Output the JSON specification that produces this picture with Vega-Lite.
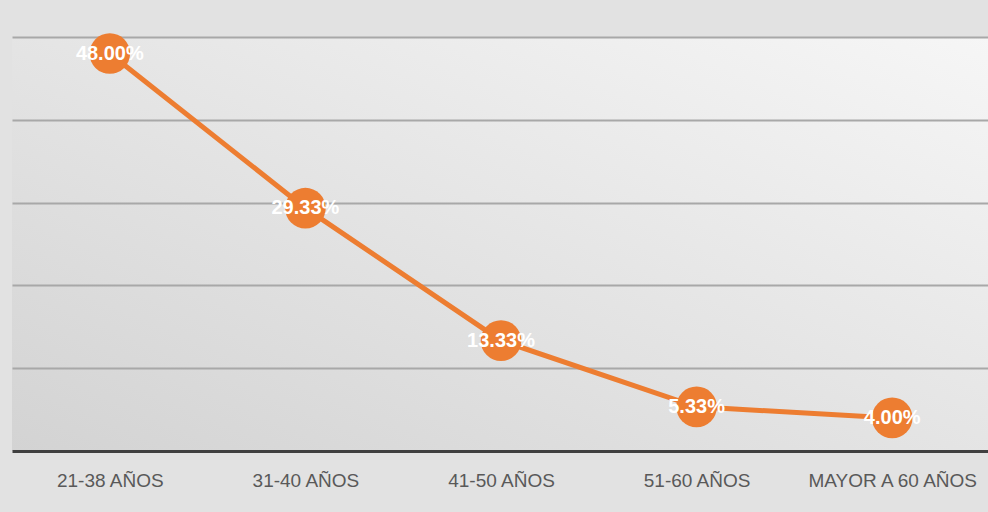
{
  "$schema": "https://vega.github.io/schema/vega-lite/v6.json",
  "width": 978,
  "height": 414,
  "autosize": {"type": "none"},
  "padding": {"left": 12, "top": 37, "right": 0, "bottom": 61},
  "background": "#e2e2e2",
  "config": {
    "view": {
      "stroke": null,
      "fill": {"gradient": "linear", "x1": 1, "y1": 0, "x2": 0, "y2": 1, "stops": [{"offset": 0, "color": "#f6f6f6"}, {"offset": 1, "color": "#d3d3d3"}]}
    },
    "font": "Open Sans"
  },
  "data": {
    "values": [
      {"grupo": "21-38 AÑOS", "pct": 0.48},
      {"grupo": "31-40 AÑOS", "pct": 0.2933},
      {"grupo": "41-50 AÑOS", "pct": 0.1333},
      {"grupo": "51-60 AÑOS", "pct": 0.0533},
      {"grupo": "MAYOR A 60 AÑOS", "pct": 0.04}
    ]
  },
  "encoding": {
    "x": {
      "field": "grupo", "type": "ordinal", "sort": null,
      "scale": {"paddingInner": 0, "paddingOuter": 0},
      "axis": {"title": null, "labelAngle": 0, "labelFontSize": 19, "labelFont": "Liberation Sans", "labelColor": "#595959", "labelPadding": 20, "ticks": false, "domainColor": "#404040", "domainWidth": 3, "grid": false}
    },
    "y": {
      "field": "pct", "type": "quantitative",
      "scale": {"domain": [0, 0.5], "nice": false},
      "axis": {"title": null, "labels": false, "ticks": false, "domain": false, "values": [0.1, 0.2, 0.3, 0.4, 0.5], "gridColor": "#a8a8a8", "gridWidth": 2}
    }
  },
  "layer": [
    {"mark": {"type": "line", "color": "#ED7D31", "strokeWidth": 5}},
    {"mark": {"type": "circle", "opacity": 1, "color": "#ED7D31", "size": 1650}},
    {
      "mark": {"type": "text", "color": "white", "fontSize": 20, "font": "Liberation Sans", "fontWeight": "bold", "align": "center", "baseline": "middle"},
      "encoding": {"text": {"field": "pct", "type": "quantitative", "format": ".2%"}}
    }
  ]
}
